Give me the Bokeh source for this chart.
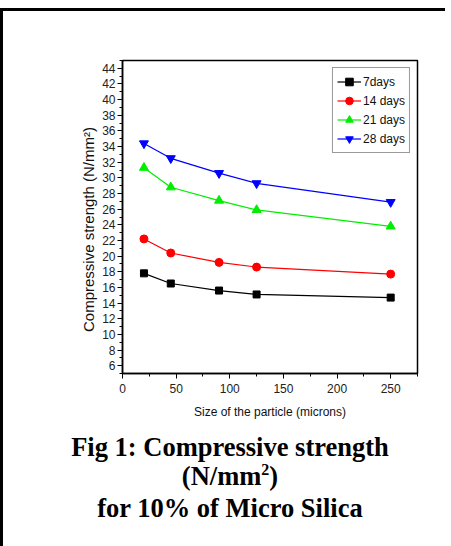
from bokeh.plotting import figure
from bokeh.models import Div, FixedTicker, Range1d, Legend, LegendItem
from bokeh.layouts import column
from bokeh.embed import file_html
from bokeh.resources import INLINE

particle_size = [20, 45, 90, 125, 250]
days7 = [17.8, 16.5, 15.6, 15.1, 14.7]
days14 = [22.2, 20.4, 19.2, 18.6, 17.7]
days21 = [31.3, 28.8, 27.1, 25.9, 23.8]
days28 = [34.4, 32.5, 30.6, 29.3, 26.9]
series_labels = ["7days", "14 days", "21 days", "28 days"]
x_major = [0, 50, 100, 150, 200, 250]
y_major = list(range(6, 45, 2))

SANS = "Liberation Sans, Arial, sans-serif"

p = figure(width=432, height=417, output_backend="svg", toolbar_location=None,
           x_range=Range1d(0, 275), y_range=Range1d(5, 45),
           min_border_left=119, min_border_right=18, min_border_top=49,
           min_border_bottom=55)
p.grid.visible = False
p.outline_line_color = "black"
p.outline_line_width = 1.5
p.background_fill_color = "white"
p.border_fill_color = "white"

p.xaxis.ticker = FixedTicker(ticks=x_major, minor_ticks=[25, 75, 125, 175, 225, 275])
p.yaxis.ticker = FixedTicker(ticks=y_major, minor_ticks=list(range(5, 46)))
for ax in (p.xaxis[0], p.yaxis[0]):
    ax.axis_line_width = 1.5
    ax.axis_line_color = "black"
    ax.major_tick_in = 0
    ax.major_tick_out = 5
    ax.minor_tick_in = 0
    ax.minor_tick_out = 3
    ax.major_tick_line_color = "black"
    ax.minor_tick_line_color = "black"
    ax.major_label_text_font = SANS
    ax.major_label_text_font_size = "12px"
    ax.major_label_text_color = "#222222"
    ax.axis_label_text_font_style = "normal"
    ax.axis_label_text_color = "#111111"
p.xaxis.major_label_standoff = 5
p.yaxis.major_label_standoff = 2
p.xaxis.axis_label = "Size of the particle (microns)"
p.xaxis.axis_label_text_font = SANS
p.xaxis.axis_label_text_font_size = "12px"
p.xaxis.axis_label_standoff = 9
# trailing no-break spaces shift the rotated label down, as in the original
p.yaxis.axis_label = "Compressive strength (N/mm\u00b2)" + "\u00a0" * 6
p.yaxis.axis_label_text_font = SANS
p.yaxis.axis_label_text_font_size = "15px"
p.yaxis.axis_label_standoff = 2

series = [days7, days14, days21, days28]
colors = ["black", "#ff0000", "#00ee00", "#0000ff"]
markers = ["square", "circle", "triangle", "inverted_triangle"]
sizes = [7, 8, 9, 9]
items = []
for vals, c, m, s, lab in zip(series, colors, markers, sizes, series_labels):
    r1 = p.line(particle_size, vals, line_color=c, line_width=1.2)
    r2 = p.scatter(particle_size, vals, marker=m, size=s, fill_color=c, line_color=c)
    items.append(LegendItem(label=lab, renderers=[r1, r2]))

legend = Legend(items=items, location="top_right")
legend.margin = 7
legend.padding = 4
legend.spacing = 0
legend.glyph_width = 24
legend.glyph_height = 19
legend.label_height = 19
legend.label_standoff = 2
legend.label_text_font = SANS
legend.label_text_font_size = "12px"
legend.label_text_color = "#111111"
legend.border_line_color = "#333333"
legend.border_line_width = 1.5
legend.background_fill_alpha = 1
p.add_layout(legend)

caption = Div(text="Fig 1: Compressive strength<br>(N/mm<span style='font-size:16px;position:relative;top:-10px'>2</span>)<br>for 10% of Micro Silica",
              width=432, height=115,
              styles={"text-align": "center", "font-family": "Liberation Serif, Times New Roman, serif",
                      "font-weight": "bold", "font-size": "26.5px", "line-height": "29px",
                      "color": "black", "padding-left": "12px"})

layout = column(p, caption, spacing=0,
                styles={"border-top": "3px solid black", "border-left": "3px solid black",
                        "margin-top": "8px"})

open("out.html", "w").write(file_html(layout, INLINE))
